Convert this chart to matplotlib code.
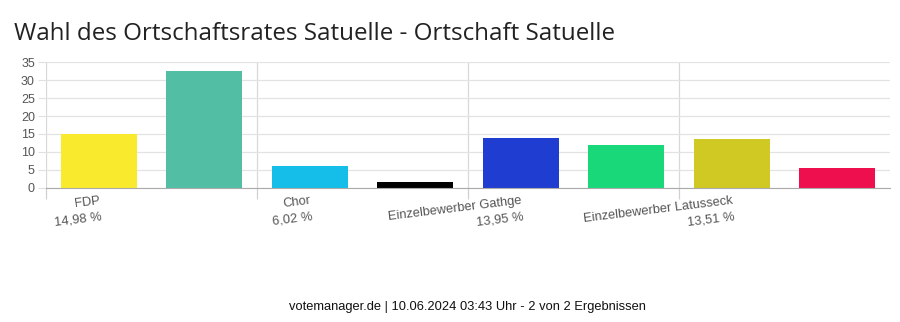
import matplotlib.pyplot as plt
import numpy as np

# Stimmenanteile in Prozent
parties = ["FDP", "", "Chor", "", "Einzelbewerber Gathge", "", "Einzelbewerber Latusseck", ""]
shares = [14.98, 32.6, 6.02, 1.5, 13.95, 11.95, 13.51, 5.5]
colors = ["#f9ea2e", "#52bfa5", "#14bee8", "#000000", "#1f3dd0", "#19d879", "#d0c823", "#ee0f4e"]
y_ticks = [0, 5, 10, 15, 20, 25, 30, 35]

title = "Wahl des Ortschaftsrates Satuelle - Ortschaft Satuelle"
footer = "votemanager.de | 10.06.2024 03:43 Uhr - 2 von 2 Ergebnissen"


def pct(v):
    return ("%.2f" % v).replace(".", ",") + " %"


fig = plt.figure(figsize=(9, 3.22), dpi=100)
ax = fig.add_axes([0.0511, 0.417, 0.938, 0.3895])

x = np.arange(len(shares))
ax.bar(x, shares, width=0.72, color=colors, zorder=3)

ax.set_xlim(-0.5, len(shares) - 0.5)
ax.set_ylim(0, 35)

ax.set_yticks(y_ticks)
ax.set_yticklabels([str(t) for t in y_ticks], fontsize=9, color="#555555",
                   family="Liberation Sans")
ax.tick_params(axis="y", length=6, color="#e0e0e0", pad=2)
ax.grid(axis="y", color="#e3e3e3", linewidth=0.9, zorder=0)

# only every second party gets a label
idx = [i for i in range(len(shares)) if parties[i]]
ax.set_xticks(idx)
ax.set_xticklabels([parties[i] + "\n" + pct(shares[i]) for i in idx],
                   rotation=7, rotation_mode="anchor", ha="right", va="top",
                   fontsize=9.3, color="#555555", family="Liberation Sans",
                   linespacing=1.5)
ax.tick_params(axis="x", which="major", length=0, pad=5)

# vertical grid lines between label groups
ax.set_xticks(np.arange(-0.5, len(shares) - 0.5, 2), minor=True)
ax.tick_params(axis="x", which="minor", length=8, color="#d0d0d0", width=0.9)
ax.grid(axis="x", which="minor", color="#d8d8d8", linewidth=0.9, zorder=0)

for side in ["top", "right", "left"]:
    ax.spines[side].set_visible(False)
ax.spines["bottom"].set_color("#aaaaaa")
ax.spines["bottom"].set_zorder(4)

fig.text(0.0155, 0.895, title, fontsize=17.4, color="#222222",
         family="Open Sans", va="center", ha="left")
fig.text(0.519, 0.047, footer, fontsize=9.3, color="#111111",
         family="Liberation Sans", va="center", ha="center")

fig.savefig("out.png", dpi=100)
